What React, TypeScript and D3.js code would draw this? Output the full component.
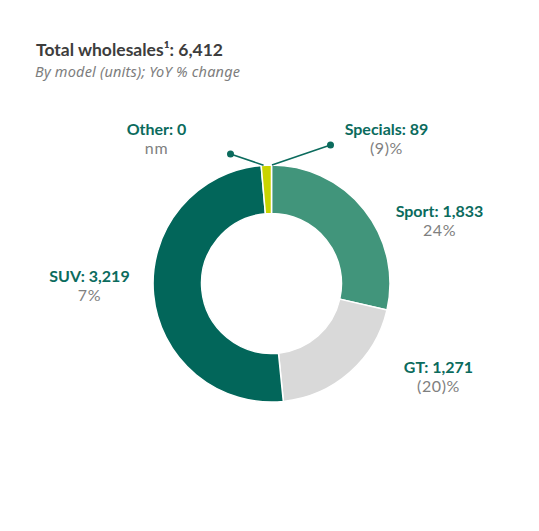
import * as d3 from 'd3'

const categories = ['Sport', 'GT', 'SUV', 'Specials', 'Other']
const units = [1833, 1271, 3219, 89, 0]
const yoy = ['24%', '(20)%', '7%', '(9)%', 'nm']
const colors = ['#41957b', '#d9d9d9', '#02665a', '#c9d400', '#9e9e9e']

const W = 539
const H = 531
const cx = 271.5
const cy = 283.5
const rOuter = 118.5
const rInner = 70

// label anchors, relative to the donut centre (text-anchor middle)
const labelPos: Record<string, [number, number]> = {
  Sport: [168, -67],
  GT: [167, 89.5],
  SUV: [-182, -2],
  Specials: [115, -148.5],
  Other: [-115, -148.5],
}
// leader dots for the tiny slices
const dotPos: Record<string, [number, number]> = {
  Specials: [59, -138.5],
  Other: [-41, -129.5],
}

const font = 'Lato, "Noto Sans", sans-serif'
const teal = '#0b6b5d'
const grey = '#808080'

export default function App() {
  const pie = d3.pie<number>().sort(null).value(d => d)
  const arcs = pie(units)
  const arc = d3.arc<d3.PieArcDatum<number>>().innerRadius(rInner).outerRadius(rOuter)
  const total = d3.sum(units)
  const fmt = d3.format(',')

  const pointAt = (a: number, r: number): [number, number] => [Math.sin(a) * r, -Math.cos(a) * r]

  const specials = arcs[3]
  const leaderStart: Record<string, number> = {
    Specials: specials.endAngle + 0.004,
    Other: specials.startAngle + 0.02,
  }

  return (
    <svg width={W} height={H} style={{ display: 'block', margin: -8 }} fontFamily={font}>
      <rect width={W} height={H} fill="#fff" />
      <text x={36} y={56} fontSize={17.5} fontWeight={700} fill="#3d3d3d" textLength={187} lengthAdjust="spacing">
        Total wholesales¹: {fmt(total)}
      </text>
      <text x={35} y={77} fontSize={14.5} fontStyle="italic" fill="#7d7d7d" fontFamily='"Noto Sans", sans-serif' textLength={205} lengthAdjust="spacing">
        By model (units); YoY % change
      </text>
      <g transform={`translate(${cx},${cy})`}>
        {arcs.map((a, i) =>
          a.value > 0 ? (
            <path key={categories[i]} d={arc(a) as string} fill={colors[i]} stroke="#fff" strokeWidth={1.5} />
          ) : null
        )}
        {Object.keys(dotPos).map(k => {
          const [x1, y1] = pointAt(leaderStart[k], rOuter)
          const [x2, y2] = dotPos[k]
          return (
            <g key={k}>
              <line x1={x1} y1={y1} x2={x2} y2={y2} stroke={teal} strokeWidth={1.6} />
              <circle cx={x2} cy={y2} r={3.5} fill={teal} />
            </g>
          )
        })}
        {categories.map((c, i) => {
          const [x, y] = labelPos[c]
          return (
            <g key={c} textAnchor="middle">
              <text x={x} y={y} fontSize={16} fontWeight={700} fill={teal}>
                {c}: {fmt(units[i])}
              </text>
              <text x={x} y={y + 19} fontSize={16} letterSpacing={0.6} fill={grey}>
                {yoy[i]}
              </text>
            </g>
          )
        })}
      </g>
    </svg>
  )
}
